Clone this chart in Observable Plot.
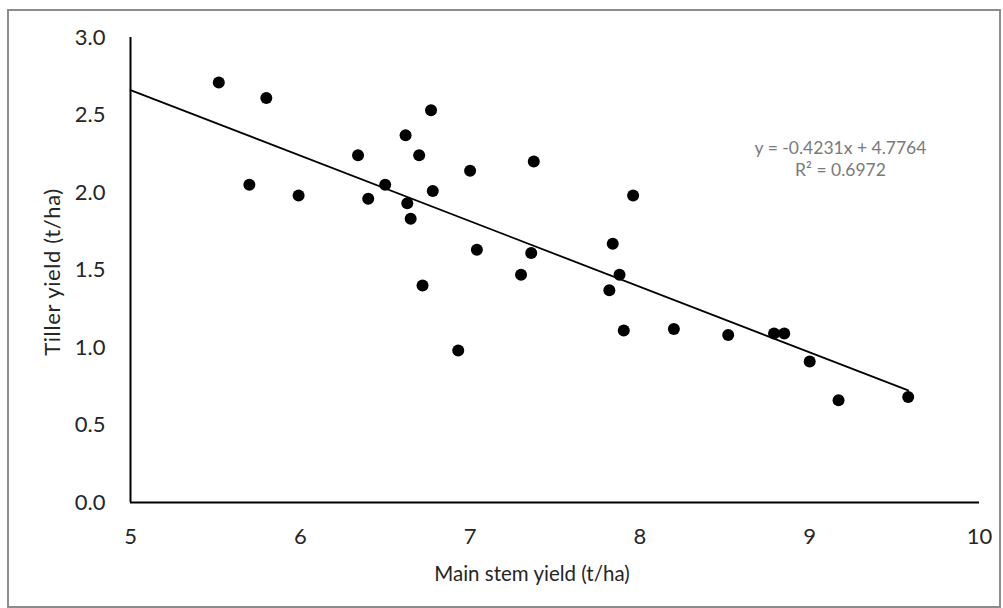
<!DOCTYPE html>
<html>
<head>
<meta charset="utf-8">
<script src="https://cdn.jsdelivr.net/npm/d3@7"></script>
<script src="https://cdn.jsdelivr.net/npm/@observablehq/plot@0.6"></script>
<style>
  html, body { margin: 0; padding: 0; background: #fff; }
  #wrap { position: relative; width: 1003px; height: 608px; overflow: hidden; }
  #border { position: absolute; left: 7px; top: 9px; width: 990px; height: 595px; border: 2px solid #8c8c8c; pointer-events: none; }
  svg { display: block; }
  .ytitle text { letter-spacing: 0.6px; }
</style>
</head>
<body>
<div id="wrap"><div id="border"></div></div>
<script>
// Main stem yield (t/ha)
const mainStem = [5.52, 5.80, 5.70, 5.99, 6.34, 6.40, 6.50, 6.62, 6.70, 6.77, 6.78, 6.63, 6.65, 7.00, 7.04, 6.72, 6.93,
                  7.375, 7.96, 7.84, 7.36, 7.30, 7.88, 7.82, 7.905, 8.20, 8.52, 8.79, 8.85, 9.00, 9.17, 9.58];
// Tiller yield (t/ha)
const tiller   = [2.71, 2.61, 2.05, 1.98, 2.24, 1.96, 2.05, 2.37, 2.24, 2.53, 2.01, 1.93, 1.83, 2.14, 1.63, 1.40, 0.98,
                  2.20, 1.98, 1.67, 1.61, 1.47, 1.47, 1.37, 1.11, 1.12, 1.08, 1.09, 1.09, 0.91, 0.66, 0.68];
// Trendline from the chart's equation
const slope = -0.4231;
const intercept = 4.7764;
const trendX = [5, 9.58];
const equationLines = ["y = -0.4231x + 4.7764", "R² = 0.6972"];
const xTicks = [5, 6, 7, 8, 9, 10];
const yTicks = [0, 0.5, 1.0, 1.5, 2.0, 2.5, 3.0];

const points = mainStem.map((x, i) => ({x, y: tiller[i]}));
const trend = trendX.map(x => ({x, y: slope * x + intercept}));

const font = "Lato, 'Open Sans', sans-serif";

const chart = Plot.plot({
  width: 1003,
  height: 608,
  marginLeft: 130,
  marginRight: 24,
  marginTop: 37,
  marginBottom: 106,
  style: {fontFamily: font, background: "transparent", color: "#262626"},
  x: {domain: [5, 10]},
  y: {domain: [0, 3]},
  marks: [
    Plot.axisY({ticks: yTicks, tickSize: 0, tickPadding: 25, tickFormat: d3.format(".1f"), fontSize: 22, label: null}),
    Plot.axisX({ticks: xTicks, tickSize: 0, tickPadding: 26, tickFormat: d3.format("d"), fontSize: 22, label: null}),
    Plot.ruleX([5], {stroke: "#000", strokeWidth: 2}),
    Plot.ruleY([0], {stroke: "#000", strokeWidth: 2}),
    Plot.line(trend, {x: "x", y: "y", stroke: "#000", strokeWidth: 1.8}),
    Plot.dot(points, {x: "x", y: "y", r: 6, fill: "#000", stroke: null}),
    Plot.text([equationLines.join("\n")], {frameAnchor: "top-right", dx: -139, dy: 100, textAnchor: "middle", lineHeight: 1.3, fontSize: 17.5, fill: "#7a7a7a"}),
    Plot.text(["Main stem yield (t/ha)"], {frameAnchor: "bottom", dx: -23, dy: 78, fontSize: 20.5, fill: "#262626"}),
    Plot.text(["Tiller yield (t/ha)"], {frameAnchor: "left", dx: -78, dy: 2, rotate: -90, textAnchor: "middle", lineAnchor: "middle", fontSize: 22, fill: "#262626", className: "ytitle"})
  ]
});
document.getElementById("wrap").prepend(chart);
</script>
</body>
</html>
